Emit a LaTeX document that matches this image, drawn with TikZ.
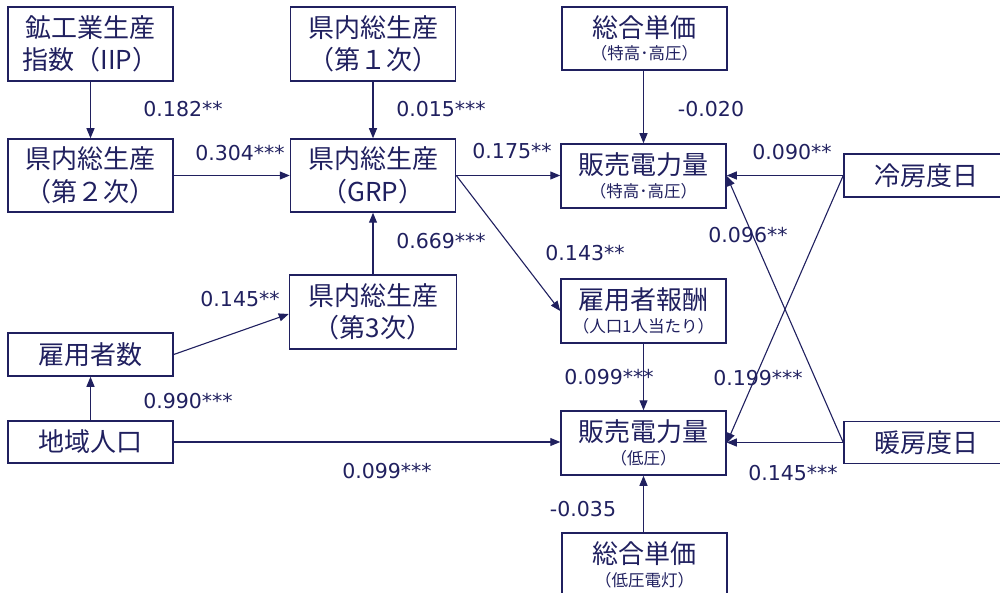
\documentclass[tikz,border=0pt]{standalone}
\usepackage{fontspec}
\setmainfont{DejaVu Sans}
\newfontfamily\jp{Noto Sans CJK JP}
\usetikzlibrary{arrows.meta}
\definecolor{navy}{HTML}{20205F}
\tikzset{
  box/.style={draw=navy, line width=1.5pt, rectangle, inner sep=0pt, text=navy, align=center, font=\jp\fontsize{26}{32.5}\selectfont, minimum width=165pt},
  arr/.style={draw=navy, line width=1.1pt, -{Triangle[length=10pt,width=8pt]}},
  lab/.style={text=navy, font=\fontsize{20.5}{23}\selectfont, inner sep=0pt}
}
\newcommand{\sm}[1]{{\fontsize{16.5}{18}\selectfont #1}}
\begin{document}
\begin{tikzpicture}[x=1pt,y=-1pt]
\useasboundingbox (0,0) rectangle (1000,593);
\begin{scope}
\clip (0,0) rectangle (1000,593);
% boxes
\node[box, minimum height=74pt] (iip) at (90.5,44) {鉱工業生産\\指数（IIP）};
\node[box, minimum height=73pt] (p2) at (90.5,175.5) {県内総生産\\（第２次）};
\node[box, minimum height=74pt] (p1) at (373,44) {県内総生産\\（第１次）};
\node[box, minimum height=73pt] (grp) at (373,175.5) {県内総生産\\（GRP）};
\node[box, minimum height=74pt, minimum width=167pt] (p3) at (373,312) {県内総生産\\（第3次）};
\node[box, minimum height=43pt] (emp) at (90.5,354.5) {雇用者数};
\node[box, minimum height=42pt] (pop) at (90.5,442) {地域人口};
\node[box, minimum height=63pt] (pr1) at (644.5,38.5) {総合単価\\[-10pt]\sm{（特高･高圧）}};
\node[box, minimum height=64pt] (s1) at (643.5,176) {販売電力量\\[-10pt]\sm{（特高･高圧）}};
\node[box, minimum height=43pt] (cool) at (926.5,175.5) {冷房度日};
\node[box, minimum height=64pt] (comp) at (643.5,311) {雇用者報酬\\[-10pt]\sm{（人口1人当たり）}};
\node[box, minimum height=64pt] (s2) at (643.5,443) {販売電力量\\[-10pt]\sm{（低圧）}};
\node[box, minimum height=42pt] (heat) at (926.5,442.5) {暖房度日};
\node[box, minimum height=64pt] (pr2) at (644.5,565) {総合単価\\[-10pt]\sm{（低圧電灯）}};
% connectors
\draw[arr] (iip) -- (p2);
\draw[arr] (p1) -- (grp);
\draw[arr] (p2) -- (grp);
\draw[arr] (p3) -- (grp);
\draw[arr] (emp.east) -- ([yshift=-2pt]p3.west);
\draw[arr] (pop) -- (emp);
\draw[arr] (pop.east) -- (pop.east -| s2.west);
\draw[arr] (grp.east) -- (grp.east -| s1.west);
\draw[arr] (grp.east) -- (comp.west);
\draw[arr] (pr1.south -| s1) -- (s1);
\draw[arr] (cool.west) -- (cool.west -| s1.east);
\draw[arr] (cool.west) -- (s2.east);
\draw[arr] (heat.west) -- (s1.east);
\draw[arr] (heat.west) -- (heat.west -| s2.east);
\draw[arr] (comp) -- (s2);
\draw[arr] (pr2.north -| s2) -- (s2);
% labels
\node[lab] (l1) at (183,109) {0.182**};
\node[lab] (l2) at (441,109) {0.015***};
\node[lab] (l3) at (240,153) {0.304***};
\node[lab] (l4) at (512,151) {0.175**};
\node[lab] (l5) at (711,109) {-0.020};
\node[lab] (l6) at (792,152) {0.090**};
\node[lab] (l7) at (748,235) {0.096**};
\node[lab] (l8) at (441,241) {0.669***};
\node[lab] (l9) at (585,253) {0.143**};
\node[lab] (l10) at (240,299) {0.145**};
\node[lab] (l11) at (188,401) {0.990***};
\node[lab] (l12) at (387,471) {0.099***};
\node[lab] (l13) at (609,377) {0.099***};
\node[lab] (l14) at (758,378) {0.199***};
\node[lab] (l15) at (793,473) {0.145***};
\node[lab] (l16) at (583,509) {-0.035};
\end{scope}
\end{tikzpicture}
\end{document}
